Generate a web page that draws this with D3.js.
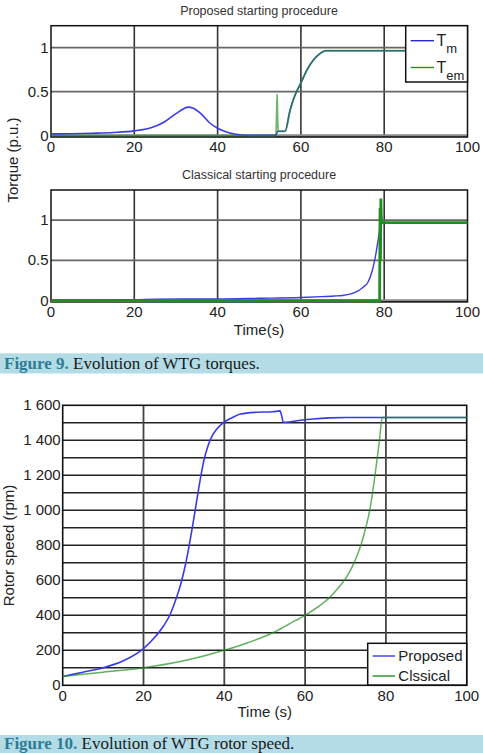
<html>
  <head>
    <style>
      body { margin:0; background:#fff; }
      text { font-family: "Liberation Sans", Arial, sans-serif; fill:#222; }
      .cap { font-family: "Liberation Serif", "Times New Roman", serif; font-size:17px; }
    </style>
    <script src="https://d3js.org/d3.v7.min.js"></script>
  </head>
  <body>
    <script>
      // Proposed starting procedure, torques (p.u.)
      const tmPropT = [0,5,10,15,20,24,27,30,32,33,34,36,38,40,42,44,46,48,54.0,54.4,56.2,57.4,58.5,60,61.5,63,64.5,66,80,100]
      const tmPropV = [0.02,0.022,0.028,0.037,0.055,0.09,0.15,0.25,0.31,0.325,0.315,0.25,0.15,0.085,0.045,0.02,0.008,0.003,0.003,0.05,0.05,0.29,0.45,0.6,0.75,0.86,0.93,0.966,0.966,0.966]
      const temPropT = [0,54.0,54.2,54.3,54.4,54.6,56.2,57.4,58.5,60,61.5,63,64.5,66,80,100]
      const temPropV = [0,0,0.3,0.47,0.2,0.05,0.05,0.29,0.45,0.6,0.75,0.86,0.93,0.966,0.966,0.966]
      // Classical starting procedure, torques (p.u.)
      const tmClasT = [0,20,25,40,50,60,65,68,70,72,74,75,76,77,77.5,78,78.5,78.8,79.1,80,100]
      const tmClasV = [0.01,0.012,0.02,0.022,0.03,0.04,0.05,0.058,0.065,0.085,0.13,0.17,0.22,0.35,0.45,0.58,0.74,0.84,0.97,0.97,0.97]
      const temClasT = [0,78.9,79.0,79.1,79.2,79.35,100]
      const temClasV = [0,0,1.15,0.5,1.27,0.97,0.97]
      // Rotor speed (rpm)
      const spdPropT = [0,5,10,15,20,23,25,26.7,28,29,30,31,32,33,34,35,36,37,38,39.7,42,44,48,52,53.8,54.2,54.6,56,58,62,66,70,80,100]
      const spdPropV = [50,75,100,140,210,280,340,410,490,560,650,760,890,1030,1170,1290,1370,1425,1460,1500,1530,1550,1560,1563,1568,1540,1503,1505,1512,1522,1528,1530,1530,1530]
      const spdClasT = [0,10,20,30,40,46,52,56,60,63,66,68,70,71.5,72.5,73.5,74.2,75,76,77.3,78.4,79.1,80,100]
      const spdClasV = [50,75,100,140,200,245,300,350,400,445,500,550,610,670,720,780,830,900,1000,1200,1400,1530,1530,1530]

      const timeTicks = [0,20,40,60,80,100]
      const torqueTicks = [0,0.5,1]
      const speedTicks = [0,200,400,600,800,1000,1200,1400,1600]
      const speedGrid = d3.range(100,1600,100)

      const BLUE = '#3a3ae6', GREEN = '#1f8f1f'

      const svg = d3.select('body').append('svg').attr('width',483).attr('height',753)

      const zip = (t,v) => t.map((d,i) => [d,v[i]])

      function torquePanel(title, yr, dom, series, showXLabel){
        const x = d3.scaleLinear().domain([0,100]).range([51,467.5])
        const y = d3.scaleLinear().domain(dom).range(yr)
        const g = svg.append('g')
        // grid
        g.selectAll('.vg').data(timeTicks.slice(1,-1)).join('line')
          .attr('x1',d => x(d)).attr('x2',d => x(d)).attr('y1',yr[1]).attr('y2',yr[0])
          .attr('stroke','#333').attr('stroke-width',1.6)
        g.selectAll('.hg').data(torqueTicks.slice(1)).join('line')
          .attr('x1',x(0)).attr('x2',x(100)).attr('y1',d => y(d)).attr('y2',d => y(d))
          .attr('stroke','#666').attr('stroke-width',1.8)
        g.append('line').attr('x1',x(0)).attr('x2',x(100)).attr('y1',y(0)).attr('y2',y(0))
          .attr('stroke','#8a8a8a').attr('stroke-width',3)
        // frame
        g.append('rect').attr('x',x(0)).attr('y',yr[1]).attr('width',x(100)-x(0)).attr('height',yr[0]-yr[1])
          .attr('fill','none').attr('stroke','#111').attr('stroke-width',1.5)
        // series
        series.forEach(s => {
          g.append('path').datum(zip(s.t,s.v))
            .attr('fill','none').attr('stroke',s.c).attr('stroke-width',s.w).attr('opacity',s.o || 1)
            .attr('d',d3.line().x(d => x(d[0])).y(d => y(d[1])).curve(s.curve || d3.curveMonotoneX))
        })
        // ticks
        g.selectAll('.xt').data(timeTicks).join('text')
          .attr('x',d => x(d)).attr('y',y(0)+12).attr('text-anchor','middle').attr('dominant-baseline','middle')
          .style('font-size','15px').text(d => d)
        g.selectAll('.yt').data(torqueTicks).join('text')
          .attr('x',48.5).attr('y',d => y(d)+1).attr('text-anchor','end').attr('dominant-baseline','middle')
          .style('font-size','15px').text(d => d)
        g.append('text').attr('x',259).attr('y',yr[1]-14).attr('text-anchor','middle').attr('dominant-baseline','middle')
          .style('font-size','12.5px').style('fill','#333').text(title)
        if(showXLabel){
          g.append('text').attr('x',259).attr('y',331).attr('text-anchor','middle').attr('dominant-baseline','middle')
            .style('font-size','15px').text('Time(s)')
        }
      }

      torquePanel('Proposed starting procedure',[137,25.7],[-0.015,1.25],[
        {t:tmPropT,v:tmPropV,c:BLUE,w:1.6},
        {t:temPropT,v:temPropV,c:GREEN,w:1.8,o:0.65}
      ],false)
      torquePanel('Classical starting procedure',[301.9,190],[-0.015,1.375],[
        {t:tmClasT,v:tmClasV,c:BLUE,w:1.4},
        {t:temClasT,v:temClasV,c:GREEN,w:2.8,curve:d3.curveLinear}
      ],true)

      svg.append('text').attr('transform','translate(14,160) rotate(-90)')
        .attr('text-anchor','middle').attr('dominant-baseline','middle')
        .style('font-size','15px').text('Torque (p.u.)')

      // legend of torque chart
      const lg1 = svg.append('g')
      lg1.append('rect').attr('x',405.7).attr('y',25.7).attr('width',61.8).attr('height',56.3)
        .attr('fill','#fff').attr('stroke','#111').attr('stroke-width',1.5)
      const leg1 = [{c:'#2a2ad0',s:'m',y:40.7},{c:GREEN,s:'em',y:67.5}]
      leg1.forEach(d => {
        lg1.append('line').attr('x1',410.7).attr('x2',434).attr('y1',d.y).attr('y2',d.y).attr('stroke',d.c).attr('stroke-width',1.4)
        const t = lg1.append('text').attr('x',436.5).attr('y',d.y+5).style('font-size','16px')
        t.append('tspan').text('T')
        t.append('tspan').attr('dy',7).style('font-size','13px').text(d.s)
      })

      // captions
      function caption(y0, y1, base, num, rest){
        svg.append('rect').attr('x',0).attr('y',y0).attr('width',483).attr('height',y1-y0).attr('fill','#b3dce7')
        const t = svg.append('text').attr('class','cap').attr('x',4).attr('y',base)
        t.append('tspan').style('font-weight','bold').style('fill','#2d7c94').text(num)
        t.append('tspan').style('fill','#1a1a1a').text(rest)
      }
      caption(353.3,373.5,369.3,'Figure 9.',' Evolution of WTG torques.')
      caption(735,753,748.5,'Figure 10.',' Evolution of WTG rotor speed.')

      // rotor speed chart
      const xs = d3.scaleLinear().domain([0,100]).range([62.7,466.7])
      const ys = d3.scaleLinear().domain([0,1600]).range([685.3,405.3])
      const g2 = svg.append('g')
      g2.selectAll('.hg').data(speedGrid).join('line')
        .attr('x1',xs(0)).attr('x2',xs(100)).attr('y1',d => ys(d)).attr('y2',d => ys(d))
        .attr('stroke','#222').attr('stroke-width',1.5)
      g2.selectAll('.vg').data(timeTicks.slice(1,-1)).join('line')
        .attr('x1',d => xs(d)).attr('x2',d => xs(d)).attr('y1',ys(1600)).attr('y2',ys(0))
        .attr('stroke','#444').attr('stroke-width',1.8)
      g2.append('rect').attr('x',xs(0)).attr('y',ys(1600)).attr('width',xs(100)-xs(0)).attr('height',ys(0)-ys(1600))
        .attr('fill','none').attr('stroke','#111').attr('stroke-width',1.6)
      const line2 = d3.line().x(d => xs(d[0])).y(d => ys(d[1])).curve(d3.curveMonotoneX)
      g2.append('path').datum(zip(spdPropT,spdPropV)).attr('fill','none').attr('stroke',BLUE).attr('stroke-width',1.6).attr('d',line2)
      g2.append('path').datum(zip(spdClasT,spdClasV)).attr('fill','none').attr('stroke',GREEN).attr('stroke-width',1.5).attr('opacity',0.7).attr('d',line2)
      g2.selectAll('.xt').data(timeTicks).join('text')
        .attr('x',d => xs(d)).attr('y',ys(0)+12).attr('text-anchor','middle').attr('dominant-baseline','middle')
        .style('font-size','15px').text(d => d)
      g2.selectAll('.yt').data(speedTicks).join('text')
        .attr('x',60.7).attr('y',d => ys(d)+1).attr('text-anchor','end').attr('dominant-baseline','middle')
        .style('font-size','15px').text(d => d3.format(',')(d).replace(',',' '))
      g2.append('text').attr('x',264.7).attr('y',713).attr('text-anchor','middle').attr('dominant-baseline','middle')
        .style('font-size','15px').text('Time (s)')
      g2.append('text').attr('transform','translate(10,545.5) rotate(-90)')
        .attr('text-anchor','middle').attr('dominant-baseline','middle')
        .style('font-size','15px').text('Rotor speed (rpm)')

      // legend of speed chart
      const lg2 = svg.append('g')
      lg2.append('rect').attr('x',367.7).attr('y',643.3).attr('width',99).attr('height',41.7)
        .attr('fill','#fff').attr('stroke','#111').attr('stroke-width',1.5)
      const leg2 = [{c:BLUE,n:'Proposed',y:656},{c:GREEN,n:'Clssical',y:676}]
      leg2.forEach(d => {
        lg2.append('line').attr('x1',372.7).attr('x2',395).attr('y1',d.y).attr('y2',d.y).attr('stroke',d.c).attr('stroke-width',1.4)
        lg2.append('text').attr('x',398.3).attr('y',d.y+1).attr('dominant-baseline','middle').style('font-size','15px').text(d.n)
      })
    </script>
  </body>
</html>
